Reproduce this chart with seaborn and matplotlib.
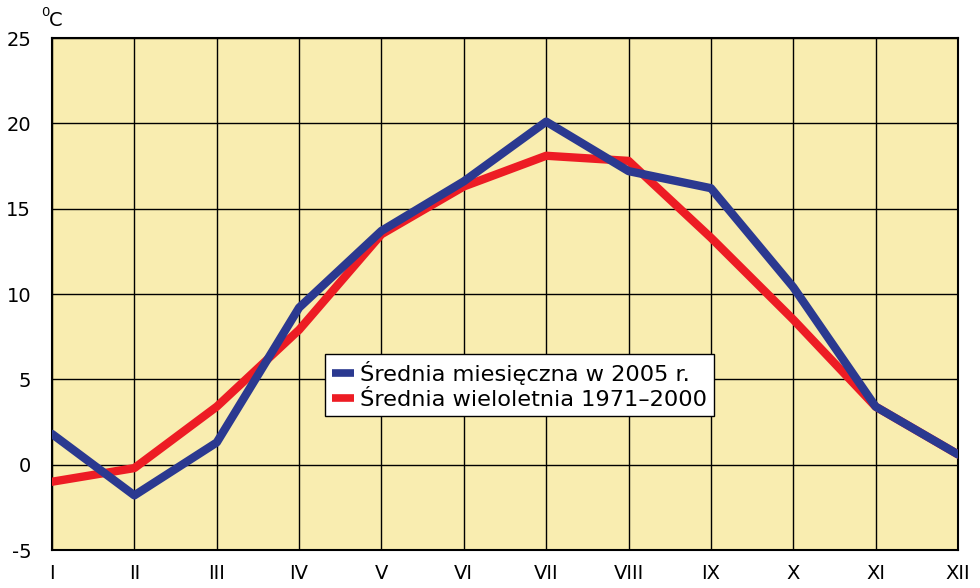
import matplotlib
matplotlib.use("Agg")
import matplotlib.pyplot as plt
import seaborn as sns
import pandas as pd
import numpy as np

months = ["I", "II", "III", "IV", "V", "VI", "VII", "VIII", "IX", "X", "XI", "XII"]
mean_2005 = [1.8, -1.8, 1.3, 9.2, 13.7, 16.6, 20.1, 17.2, 16.2, 10.4, 3.4, 0.6]
mean_1971_2000 = [-1.0, -0.2, 3.4, 7.9, 13.5, 16.3, 18.1, 17.8, 13.3, 8.5, 3.4, 0.6]
label_2005 = "Średnia miesięczna w 2005 r."
label_long = "Średnia wieloletnia 1971–2000"
y_ticks = [-5, 0, 5, 10, 15, 20, 25]

sns.set_theme(style="white")
plt.rcParams['font.family'] = ['DejaVu Sans']
plt.rcParams['text.color'] = 'black'

fig = plt.figure(figsize=(9.8, 5.88), dpi=100)
ax = fig.add_axes([52/980, 38/588, 906/980, 512/588])

x = np.arange(len(months))
df = pd.DataFrame({
    "x": np.concatenate([x, x]),
    "val": mean_1971_2000 + mean_2005,
    "series": [label_long] * 12 + [label_2005] * 12,
})

sns.lineplot(data=df[df.series == label_long], x="x", y="val", color="#ED1C24",
             linewidth=6, ax=ax, label=label_long, zorder=3)
sns.lineplot(data=df[df.series == label_2005], x="x", y="val", color="#2B3990",
             linewidth=6, ax=ax, label=label_2005, zorder=4)

ax.set_facecolor("#F9EDB0")
ax.set_xlim(0, 11)
ax.set_ylim(-5, 25)
ax.set_xticks(x)
ax.set_xticklabels(months)
ax.set_yticks(y_ticks)
ax.set_yticklabels([str(v) for v in y_ticks])
ax.tick_params(axis="both", length=0, labelsize=14, colors="black")
ax.tick_params(axis="x", pad=10)
ax.tick_params(axis="y", pad=15)
ax.grid(True, color="black", linewidth=1.0)
ax.set_axisbelow(True)
for s in ax.spines.values():
    s.set_color("black")
    s.set_linewidth(1.5)
ax.set_xlabel("")
ax.set_ylabel("")

handles, labels = ax.get_legend_handles_labels()
order = [labels.index(label_2005), labels.index(label_long)]
leg = ax.legend([handles[i] for i in order], [labels[i] for i in order],
                loc="upper left", bbox_to_anchor=((325-52)/906, (550-354)/512),
                fontsize=16.2, frameon=True, fancybox=False, framealpha=1,
                edgecolor="black", handlelength=1.0, handletextpad=0.25,
                borderpad=0.3, labelspacing=0.22, borderaxespad=0)
leg.get_frame().set_linewidth(1.0)
for line in leg.get_lines():
    line.set_linewidth(5.5)
    line.set_solid_capstyle("butt")
for t in leg.get_texts():
    t.set_color("black")

fig.text(41/980, 1 - 12/588, "0", fontsize=9.5, ha="left", va="center")
fig.text(49/980, 1 - 20/588, "C", fontsize=14, ha="left", va="center")

fig.savefig("out.png", dpi=100, facecolor="white")
